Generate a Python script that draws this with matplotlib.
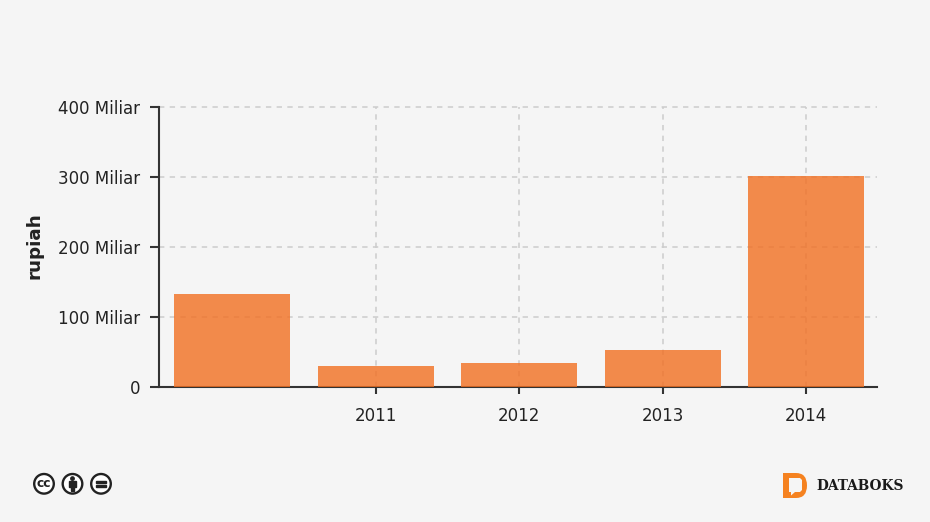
import matplotlib
matplotlib.use('Agg')
import matplotlib.pyplot as plt
from matplotlib.patches import Circle, Rectangle, PathPatch, Polygon
from matplotlib.path import Path

years = [2010, 2011, 2012, 2013, 2014]
values = [133, 30, 34, 53, 302]
xtick_years = [2011, 2012, 2013, 2014]
xtick_labels = ['2011', '2012', '2013', '2014']
ytick_values = [0, 100, 200, 300, 400]
ytick_labels = ['0', '100 Miliar', '200 Miliar', '300 Miliar', '400 Miliar']

W, H = 930, 522
bg = '#f5f5f5'
dark = '#333333'
orange = '#f26f21'

plt.rcParams['font.family'] = ['DejaVu Sans']
fig = plt.figure(figsize=(W / 100, H / 100), dpi=100, facecolor=bg)
ax = fig.add_axes([159 / W, 1 - 387 / H, (877 - 159) / W, (387 - 107) / H], facecolor=bg)

ax.bar(years, values, width=0.808, color=orange, alpha=0.8, linewidth=0, zorder=3)
ax.set_xlim(2009.489, 2014.493)
ax.set_ylim(0, 400)

ax.set_xticks(xtick_years)
ax.set_xticklabels(xtick_labels)
ax.set_yticks(ytick_values)
ax.set_yticklabels(ytick_labels)
ax.tick_params(axis='x', length=5, width=1.5, color=dark, labelsize=12, labelcolor='#222222', pad=9.5)
ax.tick_params(axis='y', length=6.5, width=1.5, color=dark, labelsize=12, labelcolor='#222222', pad=7)
ax.grid(True, color='#cccccc', linestyle=(0, (3.5, 3.5)), linewidth=1.1, zorder=1)
ax.set_axisbelow(True)
# top gridline sits on the axes edge
for line in ax.get_ygridlines():
    line.set_clip_on(False)

for s in ['top', 'right']:
    ax.spines[s].set_visible(False)
for s in ['left', 'bottom']:
    ax.spines[s].set_color(dark)
    ax.spines[s].set_linewidth(1.5)

fig.text(34 / W, 1 - 246 / H, 'rupiah', rotation=90, ha='center', va='center',
         fontsize=13.2, fontweight='bold', color='#222222')

# footer icons and logo, in pixel coords
deco = fig.add_axes([0, 0, 1, 1], facecolor='none')
deco.set_xlim(0, W)
deco.set_ylim(H, 0)
deco.axis('off')

icon_dark = '#222222'
for cx in [44, 72.5, 101]:
    deco.add_patch(Circle((cx, 483.8), 9.8, facecolor='white', edgecolor=icon_dark, linewidth=1.7))
deco.text(44, 483.6, 'cc', ha='center', va='center', fontsize=8.8, fontweight='bold', color=icon_dark)
deco.add_patch(Circle((72.5, 478.6), 1.7, color=icon_dark))
deco.add_patch(Rectangle((69.3, 481), 6.4, 5.6, color=icon_dark))
deco.add_patch(Rectangle((70.8, 486), 3.4, 5.2, color=icon_dark))
deco.add_patch(Rectangle((96, 480.9), 10, 2.4, color=icon_dark))
deco.add_patch(Rectangle((96, 484.7), 10, 2.4, color=icon_dark))

# orange D with speech bubble
d_path = Path(
    [(783, 473), (796, 473), (807, 473), (807, 485.5), (807, 498), (796, 498), (783, 498), (783, 473)],
    [Path.MOVETO, Path.LINETO, Path.CURVE3, Path.CURVE3, Path.CURVE3, Path.CURVE3, Path.LINETO, Path.CLOSEPOLY])
deco.add_patch(PathPatch(d_path, facecolor='#f58220', edgecolor='none'))
deco.add_patch(Polygon([(789, 478), (800, 478), (802, 480), (802, 490), (800, 492), (795, 492),
                        (791, 495.5), (791, 492), (789, 492)], closed=True, facecolor=bg, edgecolor='none'))
deco.text(816, 485.7, 'DATABOKS', ha='left', va='center', fontsize=9.9, fontweight='bold',
          family='DejaVu Serif', color='#1a1a1a')

fig.savefig('out.png', dpi=100, facecolor=bg)
